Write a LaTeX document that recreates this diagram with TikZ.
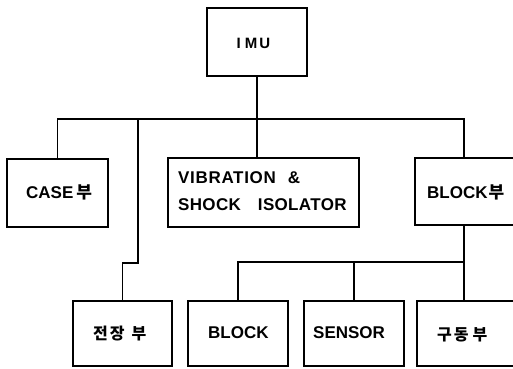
\documentclass[tikz,border=0pt]{standalone}
\usepackage{fontspec}
\setmainfont{Liberation Sans}
\newfontfamily\kr{Noto Sans CJK KR}
\begin{document}
\begin{tikzpicture}[x=1pt,y=-1pt,
  box/.style={draw, line width=1.8pt, inner sep=0pt},
  conn/.style={line width=1.1pt},
  lbl/.style={anchor=base west, inner sep=0pt, font=\fontsize{17}{20}\selectfont\bfseries},
  hlbl/.style={anchor=base west, inner sep=0pt, font=\kr\fontsize{16}{18}\selectfont\bfseries}]
\useasboundingbox (0,0) rectangle (513,368);
\clip (0,0) rectangle (513,368);
% boxes
\node[box, minimum width=100pt, minimum height=68pt] (imu) at (257,42) {};
\node[box, minimum width=101pt, minimum height=68pt] (case) at (57.5,193) {};
\node[box, minimum width=191pt, minimum height=69pt] (vib) at (263.5,192.5) {};
\node[box, minimum width=110pt, minimum height=67pt] (blockp) at (470,191.5) {};
\node[box, minimum width=99pt, minimum height=65pt] (jang) at (122.5,333.5) {};
\node[box, minimum width=100pt, minimum height=65pt] (block) at (238,333.5) {};
\node[box, minimum width=100pt, minimum height=65pt] (sensor) at (354,333.5) {};
\node[box, minimum width=104pt, minimum height=65pt] (gu) at (469,333.5) {};
% texts
\node[lbl, font=\fontsize{15}{17}\selectfont\bfseries] (imut) at (236.5,48.5) {I\hspace{4pt}M\hspace{2pt}U};
\node[lbl] (caset) at (26,198) {CASE\hspace{3pt}{\kr\fontsize{17}{19}\selectfont 부}};
\node[lbl] (vibt1) at (178,183) {\addfontfeatures{LetterSpace=4}VIBRATION\hspace{12pt}\&};
\node[lbl] (vibt2) at (178,210) {\addfontfeatures{LetterSpace=2}SHOCK\hspace{17pt}ISOLATOR};
\node[lbl] (blockpt) at (427,198) {BLOCK\hspace{1pt}{\kr\fontsize{17}{19}\selectfont 부}};
\node[hlbl] (jangt) at (93,339) {전\hspace{2pt}장\hspace{7pt}부};
\node[lbl] (blockt) at (208,338) {BLOCK};
\node[lbl] (sensort) at (313,338) {SENSOR};
\node[hlbl] (gut) at (437,340) {구\hspace{2pt}동\hspace{4pt}부};
% junctions
\coordinate (bj) at (464,119);
\coordinate (ej) at (138,119);
\coordinate (ek) at (138,263);
\coordinate (lj) at (464,262);
% connectors
\draw[conn] (imu.south) -- (imu.south |- vib.north);
\draw[conn] (case.north) |- (bj) -- (bj |- blockp.north);
\draw[conn] (ej) -- (ek) -| (jang.north);
\draw[conn] (lj |- blockp.south) -- (lj |- gu.north);
\draw[conn] (block.north) |- (lj);
\draw[conn] (sensor.north) -- (sensor.north |- lj);
\end{tikzpicture}
\end{document}
